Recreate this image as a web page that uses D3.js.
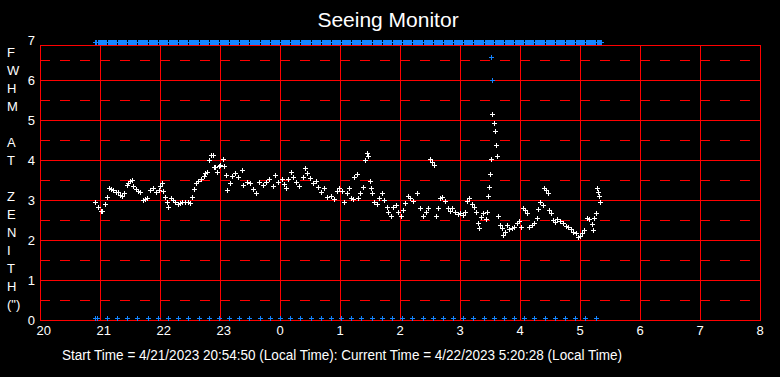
<!DOCTYPE html>
<html lang="en">
<head>
<meta charset="UTF-8">
<title>Seeing Monitor</title>
<script src="https://d3js.org/d3.v7.min.js"></script>
<style>
  * { margin: 0; padding: 0; }
  body { background: #000; }
  svg text { fill: #fff; font-family: Arial, "Liberation Sans", sans-serif; }
</style>
</head>
<body>
<script>
// measured seeing (white crosses), local clock time "HH:MM" and FWHM in arcsec
var whiteTimes = [
  "20:55","20:58","21:01","21:02","21:05","21:07","21:09","21:11","21:13","21:16",
  "21:18","21:20","21:22","21:24","21:27","21:28","21:30","21:32","21:33","21:36",
  "21:38","21:40","21:43","21:45","21:47","21:50","21:53","21:56","21:59","22:00",
  "22:02","22:03","22:05","22:07","22:08","22:11","22:13","22:15","22:18","22:20",
  "22:22","22:25","22:28","22:30","22:32","22:34","22:36","22:38","22:41","22:44",
  "22:45","22:47","22:49","22:51","22:53","22:54","22:55","22:57","22:59","23:00",
  "23:03","23:04","23:06","23:07","23:10","23:12","23:15","23:18","23:22","23:23",
  "23:27","23:30","23:33","23:36","23:39","23:43","23:46","23:49","23:53","23:55",
  "23:58","00:02","00:04","00:06","00:08","00:11","00:13","00:16","00:19","00:23",
  "00:25","00:27","00:30","00:33","00:36","00:38","00:41","00:44","00:47","00:51",
  "00:54","00:57","00:59","01:02","01:04","01:07","01:09","01:11","01:13","01:14",
  "01:17","01:18","01:20","01:23","01:25","01:27","01:28","01:30","01:31","01:32",
  "01:34","01:37","01:39","01:42","01:44","01:47","01:48","01:51","01:53","01:56",
  "01:58","02:01","02:03","02:05","02:08","02:10","02:13","02:17","02:20","02:23",
  "02:26","02:28","02:30","02:32","02:34","02:36","02:38","02:40","02:42","02:45",
  "02:48","02:50","02:52","02:55","02:58","03:00","03:03","03:05","03:07","03:09",
  "03:12","03:14","03:16","03:18","03:19","03:21","03:23","03:26","03:27","03:28",
  "03:29","03:30","03:31","03:32","03:34","03:35","03:36","03:37","03:38","03:40",
  "03:42","03:43","03:45","03:47","03:49","03:52","03:54","03:57","03:59","04:01",
  "04:03","04:05","04:07","04:09","04:12","04:14","04:17","04:18","04:20","04:23",
  "04:24","04:26","04:28","04:29","04:31","04:33","04:35","04:37","04:40","04:43",
  "04:46","04:48","04:51","04:53","04:56","04:58","05:00","05:02","05:04","05:07",
  "05:09","05:12","05:13","05:14","05:16","05:17","05:18","05:19","05:20"
];
var whiteFwhm = [
  2.96,2.83,2.73,2.72,2.90,3.08,3.29,3.27,3.25,3.21,
  3.21,3.12,3.10,3.17,3.37,3.42,3.48,3.50,3.36,3.27,
  3.23,3.19,3.00,3.02,3.04,3.25,3.29,3.21,3.25,3.35,
  3.42,3.22,3.08,2.96,2.83,3.06,3.00,2.96,2.91,2.92,
  2.94,2.96,2.95,2.93,3.07,3.28,3.42,3.48,3.52,3.60,
  3.67,3.71,4.00,4.12,4.12,3.83,3.83,3.71,3.85,3.88,
  4.02,3.85,3.62,3.25,3.42,3.60,3.67,3.57,3.75,3.37,
  3.46,3.43,3.28,3.18,3.45,3.37,3.44,3.52,3.35,3.62,
  3.46,3.52,3.40,3.29,3.52,3.71,3.58,3.46,3.35,3.57,
  3.79,3.68,3.54,3.42,3.48,3.33,3.21,3.29,3.08,3.10,
  3.02,3.22,3.30,3.23,2.96,3.17,3.29,3.04,3.02,3.58,
  3.65,3.04,3.17,3.33,4.00,4.18,4.10,3.48,3.29,3.18,
  2.96,2.90,3.04,3.18,3.00,2.83,2.71,2.60,2.83,2.88,
  2.71,2.60,2.75,2.92,3.10,3.04,2.98,3.18,2.79,2.60,
  2.71,2.79,4.02,3.96,3.88,2.60,2.79,3.04,3.08,2.98,
  2.79,2.73,2.79,2.71,2.65,2.68,2.62,2.71,2.98,3.04,
  2.90,2.82,2.71,2.42,2.29,2.57,2.67,2.52,2.71,3.09,
  3.32,3.64,4.02,5.15,4.92,4.72,4.37,4.10,2.60,2.38,
  2.29,2.12,2.21,2.38,2.27,2.29,2.33,2.42,2.48,2.32,
  2.79,2.75,2.67,2.33,2.38,2.43,2.54,2.77,2.96,2.88,
  3.29,3.25,3.18,2.75,2.67,2.50,2.46,2.52,2.48,2.42,
  2.35,2.33,2.27,2.21,2.17,2.08,2.10,2.17,2.25,2.54,
  2.52,2.40,2.25,2.54,2.67,3.29,3.21,3.10,2.96
];
// blue crosses inside the plot
var blueTimes = ["03:31","03:32"];
var blueFwhm = [6.57, 5.99];
// blue crosses along the bottom edge
var lowTimes = [
  "20:55","20:57","21:07","21:17","21:27","21:37","21:48","21:58","22:08","22:18",
  "22:28","22:39","22:49","22:59","23:09","23:19","23:29","23:40","23:50","00:00",
  "00:10","00:20","00:31","00:41","00:51","01:01","01:11","01:21","01:32","01:42",
  "01:52","02:02","02:12","02:23","02:33","02:43","02:53","03:03","03:13","03:24",
  "03:34","03:44","03:54","04:04","04:14","04:25","04:35","04:45","04:55","05:05",
  "05:16"
];
var lowLevel = 0.05;
// blue band across the top edge, one cross per minute
var topStart = "20:55", topEnd = "05:22";
var topLevel = 6.95;

var yTicks = [0, 1, 2, 3, 4, 5, 6, 7];
var yDashes = [0.5, 1.5, 2.5, 3.5, 4.5, 5.5, 6.5];
var yLabel = ["F","W","H","M","","A","T","","Z","E","N","I","T","H","(\")"];
var titleText = "Seeing Monitor";
var footerText = "Start Time = 4/21/2023 20:54:50 (Local Time): Current Time = 4/22/2023 5:20:28 (Local Time)";

function toDate(s) {
  var p = s.split(":").map(Number);
  var day = p[0] >= 12 ? 21 : 22;
  return new Date(2023, 3, day, p[0], p[1]);
}

var width = 780, height = 377;
var left = 40, right = 760, bottom = 320, frameTop = 45;

var x = d3.scaleTime()
  .domain([new Date(2023, 3, 21, 20), new Date(2023, 3, 22, 8)])
  .range([left, right]);
var y = d3.scaleLinear().domain([0, 7]).range([bottom, 40]);

var svg = d3.select("body").append("svg")
  .attr("width", width).attr("height", height)
  .style("display", "block").style("background", "#000");

var hours = x.ticks(d3.timeHour.every(1));

// grid
var grid = svg.append("g").attr("shape-rendering", "crispEdges").attr("stroke", "#ff0000");
grid.selectAll(".dash").data(yDashes).enter().append("line")
  .attr("x1", left).attr("x2", right)
  .attr("y1", function (d) { return Math.round(y(d)) + 0.5; })
  .attr("y2", function (d) { return Math.round(y(d)) + 0.5; })
  .attr("stroke-dasharray", "10,10");
grid.selectAll(".hline").data(yTicks.filter(function (d) { return d < 7; })).enter().append("line")
  .attr("x1", left).attr("x2", right)
  .attr("y1", function (d) { return Math.round(y(d)) + 0.5; })
  .attr("y2", function (d) { return Math.round(y(d)) + 0.5; });
grid.selectAll(".vline").data(hours).enter().append("line")
  .attr("x1", function (d) { return Math.round(x(d)) + 0.5; })
  .attr("x2", function (d) { return Math.round(x(d)) + 0.5; })
  .attr("y1", frameTop).attr("y2", bottom + 0.5);
grid.append("line")
  .attr("x1", left).attr("x2", right + 1)
  .attr("y1", frameTop + 0.5).attr("y2", frameTop + 0.5);

// crosses
var crossPath = "M-2,0.5H3M0.5,-2V3";
function crosses(times, vals, color) {
  svg.append("g").attr("shape-rendering", "crispEdges")
    .selectAll("path").data(times).enter().append("path")
    .attr("d", crossPath)
    .attr("fill", "none")
    .attr("stroke", color)
    .attr("transform", function (d, i) {
      var v = Array.isArray(vals) ? vals[i] : vals;
      return "translate(" + Math.round(x(toDate(d))) + "," + Math.round(y(v)) + ")";
    });
}
var blue = "#1484ff";
var topDates = d3.timeMinute.range(toDate(topStart), toDate(topEnd));
var lowSet = new Set(lowTimes);
var fmt = d3.timeFormat("%H:%M");
var topTimes = topDates.map(fmt).filter(function (t) { return !lowSet.has(t) || t === topStart; });
crosses(topTimes, topLevel, blue);
crosses(lowTimes, lowLevel, blue);
crosses(whiteTimes, whiteFwhm, "#ffffff");
crosses(blueTimes, blueFwhm, blue);

// axes labels
var xAxis = svg.append("g").attr("transform", "translate(0," + bottom + ")")
  .call(d3.axisBottom(x).ticks(d3.timeHour.every(1)).tickFormat(d3.timeFormat("%-H"))
    .tickSize(0).tickPadding(6));
xAxis.select(".domain").remove();
xAxis.selectAll("text").attr("text-anchor", "start").attr("x", -4)
  .attr("font-size", "13px").attr("font-family", null).attr("fill", "#fff");

var yAxis = svg.append("g").attr("transform", "translate(" + left + ",0)")
  .call(d3.axisLeft(y).tickValues(yTicks).tickFormat(d3.format("d")).tickSize(0).tickPadding(5));
yAxis.select(".domain").remove();
yAxis.selectAll("text").attr("font-size", "13px").attr("font-family", null).attr("fill", "#fff");

svg.append("g").selectAll("text").data(yLabel).enter().append("text")
  .attr("x", 7)
  .attr("y", function (d, i) { return 57 + i * 18; })
  .attr("font-size", "13px")
  .text(function (d) { return d; });

svg.append("text")
  .attr("x", 388).attr("y", 27)
  .attr("text-anchor", "middle")
  .attr("font-size", "21px")
  .text(titleText);

svg.append("text")
  .attr("x", 62).attr("y", 360)
  .attr("font-size", "14px")
  .attr("textLength", 560)
  .attr("lengthAdjust", "spacingAndGlyphs")
  .text(footerText);
</script>
</body>
</html>
